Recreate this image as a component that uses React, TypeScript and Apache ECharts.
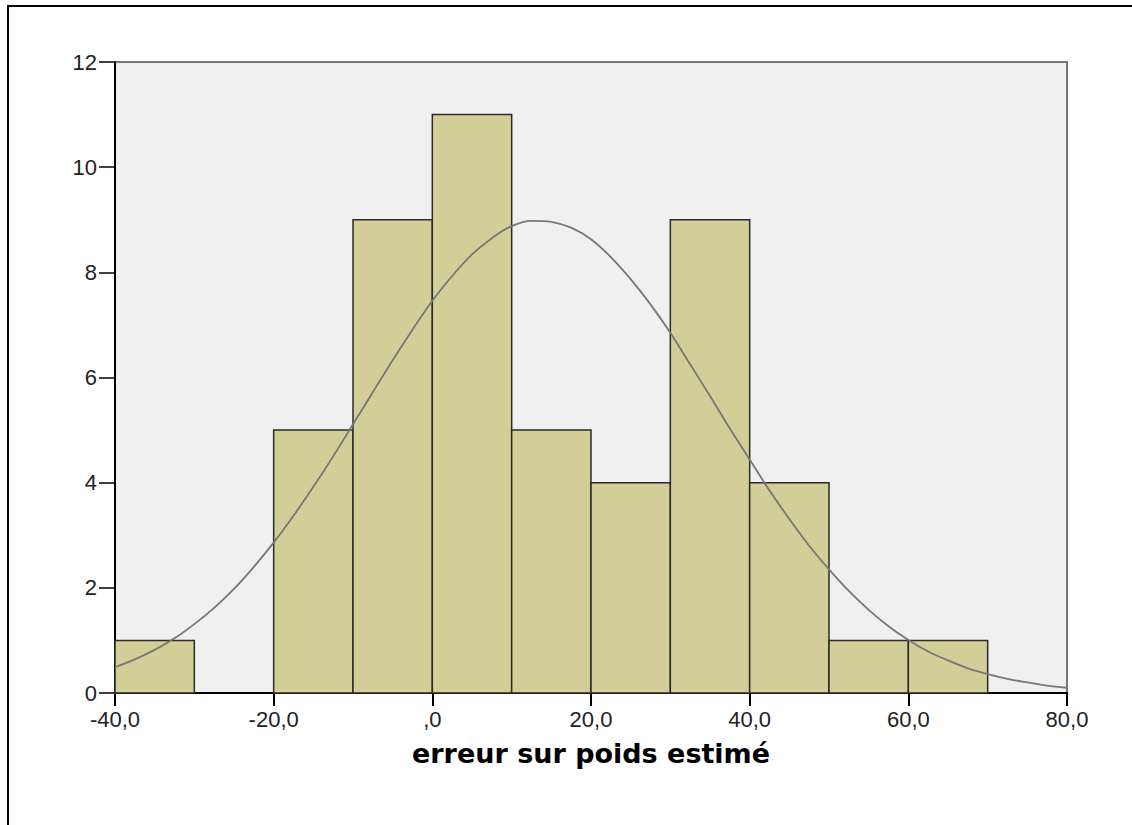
import React, { useEffect, useRef } from "react";
import * as echarts from "echarts";

// Histogram bins (lower edge, upper edge) and case counts
const binStarts = [-40, -30, -20, -10, 0, 10, 20, 30, 40, 50, 60];
const binEnds = [-30, -20, -10, 0, 10, 20, 30, 40, 50, 60, 70];
const binCounts = [1, 0, 5, 9, 11, 5, 4, 9, 4, 1, 1];

// Fitted normal curve, sampled every 2.5 units
const curveX = [
  -40, -37.5, -35, -32.5, -30, -27.5, -25, -22.5, -20, -17.5, -15, -12.5, -10,
  -7.5, -5, -2.5, 0, 2.5, 5, 7.5, 10, 12.5, 15, 17.5, 20, 22.5, 25, 27.5, 30,
  32.5, 35, 37.5, 40, 42.5, 45, 47.5, 50, 52.5, 55, 57.5, 60, 62.5, 65, 67.5,
  70, 72.5, 75, 77.5, 80,
];
const curveY = [
  0.49, 0.64, 0.82, 1.04, 1.31, 1.62, 1.98, 2.4, 2.86, 3.37, 3.92, 4.5, 5.11,
  5.72, 6.33, 6.91, 7.46, 7.93, 8.34, 8.65, 8.88, 8.98, 8.96, 8.85, 8.63, 8.29,
  7.87, 7.39, 6.85, 6.25, 5.65, 5.03, 4.44, 3.85, 3.31, 2.8, 2.35, 1.94, 1.58,
  1.27, 1.01, 0.79, 0.62, 0.47, 0.36, 0.27, 0.2, 0.14, 0.1,
];

// Axis tick labels (SPSS style decimal comma)
const xTickValues = [-40, -20, 0, 20, 40, 60, 80];
const xTickLabels = ["-40,0", "-20,0", ",0", "20,0", "40,0", "60,0", "80,0"];
const yTickLabels = ["0", "2", "4", "6", "8", "10", "12"];

const axisTitle = "erreur sur poids estimé";

export default function App() {
  const ref = useRef<HTMLDivElement>(null);

  useEffect(() => {
    if (!ref.current) return;
    const chart = echarts.init(ref.current, null, { renderer: "svg" });

    const barData = binStarts.map((s, i) => [s, binEnds[i], binCounts[i]]);
    const curveData = curveX.map((x, i) => [x, curveY[i]]);

    chart.setOption({
      animation: false,
      backgroundColor: "#ffffff",
      textStyle: { fontFamily: "Liberation Sans, Arial, sans-serif" },
      graphic: [
        {
          type: "rect",
          silent: true,
          z: 100,
          shape: { x: 8, y: 6, width: 1300, height: 1000 },
          style: { fill: "none", stroke: "#000000", lineWidth: 2 },
        },
      ],
      grid: {
        left: 115,
        top: 62,
        right: 65,
        bottom: 132,
        show: true,
        backgroundColor: "#f0f0f0",
        borderColor: "#777777",
        borderWidth: 2,
      },
      xAxis: {
        type: "value",
        min: -40,
        max: 80,
        interval: 20,
        name: axisTitle,
        nameLocation: "middle",
        nameGap: 47,
        nameTextStyle: {
          fontFamily: "DejaVu Sans",
          fontWeight: "bold",
          fontSize: 27,
          color: "#000000",
        },
        splitLine: { show: false },
        axisLine: { show: true, onZero: false, lineStyle: { color: "#000000", width: 2 } },
        axisTick: { show: true, length: 13, lineStyle: { color: "#000000", width: 2 } },
        axisLabel: {
          margin: 15,
          fontSize: 22,
          color: "#222222",
          formatter: (v: number) => {
            const i = xTickValues.indexOf(v);
            return i >= 0 ? xTickLabels[i] : "";
          },
        },
      },
      yAxis: {
        type: "value",
        min: 0,
        max: 12,
        interval: 2,
        splitLine: { show: false },
        axisLine: { show: true, onZero: false, lineStyle: { color: "#000000", width: 2 } },
        axisTick: { show: true, length: 16, lineStyle: { color: "#000000", width: 1.5 } },
        axisLabel: {
          margin: 18,
          fontSize: 22,
          color: "#222222",
          formatter: (v: number) => yTickLabels[Math.round(v / 2)] ?? "",
        },
      },
      series: [
        {
          type: "custom",
          data: barData,
          encode: { x: [0, 1], y: 2 },
          renderItem: (params: any, api: any) => {
            const count = api.value(2);
            if (!count) return null;
            const p0 = api.coord([api.value(0), 0]);
            const p1 = api.coord([api.value(1), count]);
            return {
              type: "rect",
              shape: {
                x: p0[0],
                y: p1[1],
                width: p1[0] - p0[0],
                height: p0[1] - p1[1],
              },
              style: { fill: "#d3ce97", stroke: "#2a2a2a", lineWidth: 1.5 },
            };
          },
          z: 2,
        },
        {
          type: "line",
          data: curveData,
          smooth: 0.3,
          showSymbol: false,
          lineStyle: { color: "#777777", width: 1.8 },
          z: 3,
        },
      ],
    });

    return () => chart.dispose();
  }, []);

  return (
    <div
      ref={ref}
      style={{ position: "fixed", left: 0, top: 0, width: 1132, height: 825 }}
    />
  );
}
